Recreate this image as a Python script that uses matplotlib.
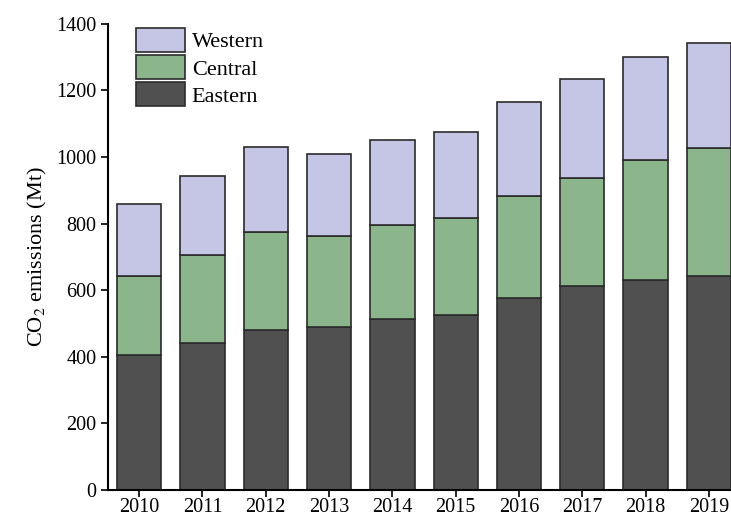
import numpy as np
import matplotlib.pyplot as plt

plt.rcParams['font.family'] = ['Liberation Serif', 'DejaVu Serif']
plt.rcParams['mathtext.fontset'] = 'stix'

years = ['2010', '2011', '2012', '2013', '2014', '2015', '2016', '2017', '2018', '2019']
eastern = [406, 441, 480, 490, 513, 526, 576, 612, 631, 644]
central = [237, 266, 295, 274, 282, 291, 308, 324, 360, 382]
western = [215, 235, 254, 246, 255, 259, 282, 297, 309, 317]

x = np.arange(len(years))
eastern = np.array(eastern)
central = np.array(central)
western = np.array(western)

fig = plt.figure(figsize=(7.31, 5.2), dpi=100)
ax = fig.add_axes([0.148, 0.058, 0.852, 0.896])

w = 0.7
ec = '#2b2b2b'
b1 = ax.bar(x, eastern, w, color='#505050', edgecolor=ec, linewidth=1.2, label='Eastern')
b2 = ax.bar(x, central, w, bottom=eastern, color='#8bb68b', edgecolor=ec, linewidth=1.2, label='Central')
b3 = ax.bar(x, western, w, bottom=eastern + central, color='#c5c5e6', edgecolor=ec, linewidth=1.2, label='Western')

ax.set_xlim(-0.49, 9.35)
ax.set_ylim(0, 1400)
ax.set_xticks(x)
ax.set_xticklabels(years)
ax.set_yticks(np.arange(0, 1401, 200))
ax.tick_params(labelsize=14.5, direction='out', length=5, width=1.2)
ax.tick_params(axis='x', pad=1)
for s in ['top', 'right']:
    ax.spines[s].set_visible(False)
for s in ['left', 'bottom']:
    ax.spines[s].set_linewidth(1.5)

ax.set_ylabel('CO$_2$ emissions (Mt)', fontsize=16, labelpad=5)

ax.legend([b3, b2, b1], ['Western', 'Central', 'Eastern'], loc='upper left',
          bbox_to_anchor=(0.02, 1.025), frameon=False, fontsize=16,
          handlelength=2.2, handleheight=1.3, labelspacing=0.12,
          handletextpad=0.3, borderpad=0.2)

fig.savefig('out.png', dpi=100)
